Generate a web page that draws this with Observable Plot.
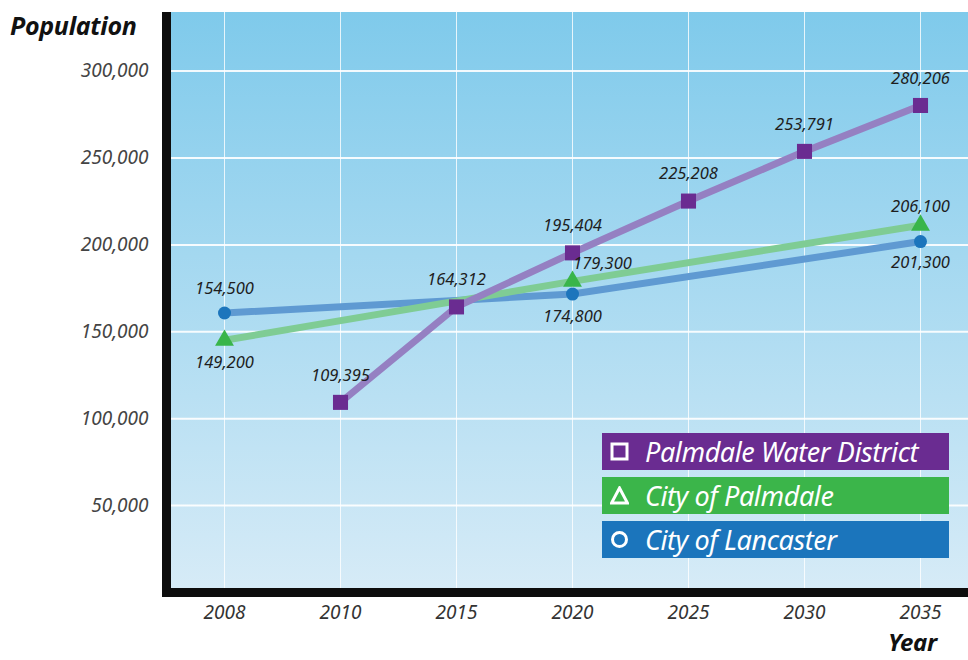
<!DOCTYPE html>
<html><head><meta charset="utf-8">
<script src="https://cdn.jsdelivr.net/npm/d3@7"></script>
<script src="https://cdn.jsdelivr.net/npm/@observablehq/plot@0.6"></script>
<style>
body{margin:0;background:#fff;font-family:"Noto Sans",sans-serif;}
#wrap{position:relative;width:968px;height:660px;overflow:hidden;}
#wrap > svg{position:absolute;left:0;top:0;}
.ttl{position:absolute;font-weight:bold;font-style:italic;color:#111;font-size:25px;line-height:1;letter-spacing:-0.3px;white-space:nowrap;}
.leg{position:absolute;left:602px;width:347px;height:37px;color:#fff;font-style:italic;font-size:27px;line-height:37px;box-sizing:border-box;padding-left:43px;letter-spacing:-0.4px;white-space:nowrap;}
#wrap .leg svg{position:absolute;left:8px;top:9px;}
g[aria-label="y-axis tick label"] text, g[aria-label="y-axis"] text{font-size:19px;font-style:italic;fill:#444;}
g[aria-label="x-axis tick label"] text, g[aria-label="x-axis"] text{font-size:19px;font-style:italic;fill:#333;}
</style></head>
<body><div id="wrap"></div>
<script>
const years = ["2008","2010","2015","2020","2025","2030","2035"];
const seriesNames = ["Palmdale Water District","City of Palmdale","City of Lancaster"];
// Palmdale Water District (plotted as printed)
const waterYears = ["2010","2015","2020","2025","2030","2035"];
const waterValues = [109395,164312,195404,225208,253791,280206];
const waterLabels = ["109,395","164,312","195,404","225,208","253,791","280,206"];
// City of Palmdale (positions as drawn in the picture, labels as printed)
const palmdaleYears = ["2008","2020","2035"];
const palmdaleValues = [145100,179000,211300];
const palmdaleLabels = ["149,200","179,300","206,100"];
// City of Lancaster
const lancasterYears = ["2008","2020","2035"];
const lancasterValues = [160800,171700,201900];
const lancasterLabels = ["154,500","174,800","201,300"];
const yTicks = [50000,100000,150000,200000,250000,300000];

const fmt = d3.format(",");
const mk = (ys,vs,ls)=>ys.map((y,i)=>({year:y,value:vs[i],label:ls[i]}));
const water = mk(waterYears,waterValues,waterLabels);
const palm = mk(palmdaleYears,palmdaleValues,palmdaleLabels);
const lanc = mk(lancasterYears,lancasterValues,lancasterLabels);

function background(index, scales, values, dim){
  const ns="http://www.w3.org/2000/svg";
  const g=document.createElementNS(ns,"g");
  const defs=document.createElementNS(ns,"defs");
  defs.innerHTML='<linearGradient id="bg" x1="0" y1="0" x2="0" y2="1"><stop offset="0" stop-color="#7fcaeb"/><stop offset="1" stop-color="#d6ebf7"/></linearGradient>';
  g.appendChild(defs);
  const r=document.createElementNS(ns,"rect");
  r.setAttribute("x",dim.marginLeft);r.setAttribute("y",dim.marginTop);
  r.setAttribute("width",dim.width-dim.marginLeft-dim.marginRight);
  r.setAttribute("height",dim.height-dim.marginTop-dim.marginBottom-4);
  r.setAttribute("fill","url(#bg)");
  g.appendChild(r);
  return g;
}
function frameBars(index, scales, values, dim){
  const ns="http://www.w3.org/2000/svg";
  const g=document.createElementNS(ns,"g");
  const bottom=dim.height-dim.marginBottom;
  const l=document.createElementNS(ns,"rect");
  l.setAttribute("x",dim.marginLeft-9);l.setAttribute("y",dim.marginTop);
  l.setAttribute("width",9);l.setAttribute("height",bottom-dim.marginTop+5);
  l.setAttribute("fill","#0d0d0d");g.appendChild(l);
  const b=document.createElementNS(ns,"rect");
  b.setAttribute("x",dim.marginLeft-9);b.setAttribute("y",bottom-4);
  b.setAttribute("width",dim.width-dim.marginLeft+9);b.setAttribute("height",9);
  b.setAttribute("fill","#0d0d0d");g.appendChild(b);
  return g;
}

const lbl = {x:"year", y:"value", fontSize:16.5, fontStyle:"italic", fill:"#1e1e1e", text:"label"};
const chart = Plot.plot({
  width:968, height:660,
  marginLeft:171, marginRight:0, marginTop:12, marginBottom:68,
  style:{fontFamily:"'Noto Sans', sans-serif", background:"transparent"},
  x:{type:"point", domain:years, range:[224,920], padding:0, tickSize:0, tickPadding:13, label:null},
  y:{domain:[0,333700], ticks:yTicks, tickFormat:fmt, tickSize:0, tickPadding:23, label:null},
  marks:[
    background,
    Plot.ruleY(yTicks,{stroke:"#fff", strokeWidth:2, strokeOpacity:0.9}),
    Plot.ruleX(years,{stroke:"#fff", strokeWidth:1, strokeOpacity:0.8}),
    Plot.line(lanc,{x:"year",y:"value",stroke:"#5f9ad2",strokeWidth:7}),
    Plot.line(palm,{x:"year",y:"value",stroke:"#7fcc94",strokeWidth:7}),
    Plot.line(water,{x:"year",y:"value",stroke:"#9580c2",strokeWidth:7}),
    Plot.dot(lanc,{x:"year",y:"value",symbol:"circle",r:6.5,fill:"#1c75bc",stroke:null}),
    Plot.dot(palm,{x:"year",y:"value",symbol:"triangle",r:7,fill:"#39b54a",stroke:null}),
    Plot.dot(water,{x:"year",y:"value",symbol:"square",r:8.5,fill:"#6a2c91",stroke:null}),
    Plot.text(water,{...lbl,dy:-27}),
    Plot.text(palm,{...lbl,filter:d=>d.year==="2008",dy:22}),
    Plot.text(palm,{...lbl,filter:d=>d.year==="2020",dx:30,dy:-18}),
    Plot.text(palm,{...lbl,filter:d=>d.year==="2035",dy:-19}),
    Plot.text(lanc,{...lbl,filter:d=>d.year==="2008",dy:-24}),
    Plot.text(lanc,{...lbl,filter:d=>d.year==="2020",dy:23}),
    Plot.text(lanc,{...lbl,filter:d=>d.year==="2035",dy:21}),
    frameBars
  ]
});
const wrap=document.getElementById("wrap");
wrap.appendChild(chart);

function addTitle(text,left,top,size){const d=document.createElement("div");d.className="ttl";d.textContent=text;d.style.left=left+"px";d.style.top=top+"px";d.style.fontSize=size+"px";wrap.appendChild(d);}
addTitle("Population",10,13,25);
addTitle("Year",888,630,24);

const legColors=["#6a2c91","#3bb54a","#1b75bc"];
const legTops=[433,477,521];
const legSyms=[
 '<rect x="2" y="2" width="15" height="15" fill="none" stroke="#fff" stroke-width="3"/>',
 '<path d="M9.5 2 L17.5 17 L1.5 17 Z" fill="none" stroke="#fff" stroke-width="3" stroke-linejoin="miter"/>',
 '<circle cx="9.5" cy="9.5" r="7" fill="none" stroke="#fff" stroke-width="3"/>'
];
seriesNames.forEach((n,i)=>{
  const d=document.createElement("div");d.className="leg";
  d.style.top=legTops[i]+"px";d.style.background=legColors[i];
  d.innerHTML='<svg width="19" height="19">'+legSyms[i]+'</svg>';
  d.appendChild(document.createTextNode(n));
  wrap.appendChild(d);
});
</script></body></html>
